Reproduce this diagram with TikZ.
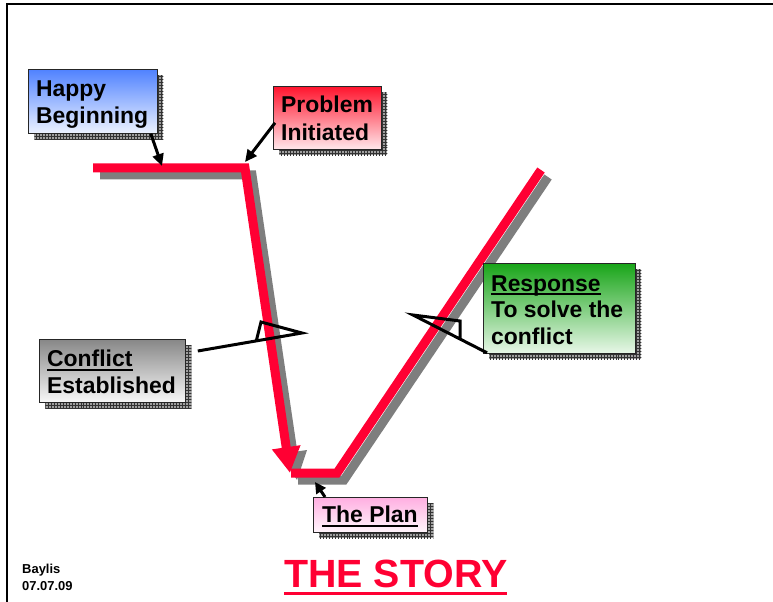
\documentclass[tikz,border=0pt]{standalone}
\usepackage{fontspec}
\setmainfont{Liberation Sans}
\usetikzlibrary{arrows.meta,calc,shadows,patterns}
\definecolor{storyred}{HTML}{FF0033}
\definecolor{shadowgray}{HTML}{A0A0A0}
\definecolor{lineshadow}{HTML}{7E7E7E}
\begin{document}
\begin{tikzpicture}[x=1bp,y=-1bp,
  box/.style={draw=black!85, line width=0.8bp, rectangle, inner sep=0, anchor=north west,
    general shadow={shadow xshift=6bp, shadow yshift=-6bp, fill=shadowgray},
    general shadow={shadow xshift=6bp, shadow yshift=-6bp, pattern=grid, pattern color=black!80}},
  lbl/.style={inner sep=0, anchor=base west, font=\bfseries\fontsize{23}{27}\selectfont},
  small/.style={inner sep=0, anchor=base west, font=\bfseries\fontsize{13}{16}\selectfont},
  uline/.style={line width=2.2bp},
  plot/.style={draw=storyred, line width=9bp, line join=miter, line cap=butt},
  plotshadow/.style={draw=lineshadow, line width=9bp, line join=miter, line cap=butt,
    transform canvas={shift={(7bp,-7bp)}}},
  pointer/.style={draw=black, line width=3bp, -{Triangle[width=11bp,length=12bp]}},
  callout/.style={draw=black, line width=3bp, line join=miter},
]
\useasboundingbox (0,0) rectangle (773,602);

% frame
\draw[line width=2bp] (7,602) -- (7,4) -- (773,4);

% story line points
\coordinate (s0) at (93,168);
\coordinate (s1) at (245,168);
\coordinate (s2) at (290,473);
\coordinate (s3) at (291,473);
\coordinate (s4) at (337,473);
\coordinate (s5) at (541,170);

% shadow of the story line
\draw[plotshadow] (s0) -- (s1) -- ($(s1)!0.91!(s2)$);
\fill[lineshadow, transform canvas={shift={(7bp,-7bp)}}]
  (s2) -- (273,447) -- (300,443) -- cycle;
\draw[plotshadow] (s3) -- (s4) -- (s5);

% story line
\draw[plot, -{Triangle[width=27bp,length=26bp]}] (s0) -- (s1) -- (s2);
\draw[plot] (s3) -- (s4) -- (s5);

% boxes
\node[box, minimum width=129bp, minimum height=64bp,
  top color={rgb,255:red,80;green,130;blue,255}, bottom color={rgb,255:red,236;green,242;blue,255}]
  (hb) at (28,69) {};
\node[box, minimum width=108bp, minimum height=63bp,
  top color={rgb,255:red,255;green,20;blue,45}, bottom color={rgb,255:red,255;green,232;blue,235}]
  (pi) at (273,86) {};
\node[box, minimum width=146bp, minimum height=63bp,
  top color={rgb,255:red,135;green,135;blue,135}, bottom color={rgb,255:red,248;green,248;blue,248}]
  (ce) at (39,339) {};
\node[box, minimum width=152bp, minimum height=90bp,
  top color={rgb,255:red,25;green,165;blue,25}, bottom color={rgb,255:red,232;green,247;blue,232}]
  (rs) at (483,263) {};
\node[box, minimum width=114bp, minimum height=35bp,
  top color={rgb,255:red,255;green,175;blue,225}, bottom color={rgb,255:red,255;green,246;blue,252}]
  (tp) at (313,497) {};

% box texts
\node[lbl] (hbA) at (36,97) {Happy};
\node[lbl] (hbB) at (36,124) {Beginning};
\node[lbl] (piA) at (281,113) {Problem};
\node[lbl] (piB) at (281,141) {Initiated};
\node[lbl] (ceA) at (47,366) {Conflict};
\node[lbl] (ceB) at (47,393) {Established};
\node[lbl] (rsA) at (491,291) {Response};
\node[lbl] (rsB) at (491,317) {To solve the};
\node[lbl] (rsC) at (491,344) {conflict};
\node[lbl] (tpA) at (322,522) {The Plan};
\draw[uline] ([yshift=-4bp]ceA.base west) -- ([yshift=-4bp]ceA.base east);
\draw[uline] ([yshift=-3bp]rsA.base west) -- ([yshift=-3bp]rsA.base east);
\draw[uline] ([yshift=-4bp]tpA.base west) -- ([yshift=-4bp]tpA.base east);

% pointers to the story line
\coordinate (hbT) at (162,166);
\coordinate (piT) at (245,162);
\coordinate (tpT) at (315,482);
\draw[pointer] ($(hb.south east)+(-7,0)$) -- (hbT);
\draw[pointer] ($(pi.south west)+(2,-27)$) -- (piT);
\draw[pointer, -{Triangle[width=11bp,length=11bp]}] ($(tp.north west)+(12,0)$) -- (tpT);

% callouts
\draw[callout] ($(ce.north east)+(12,12)$) -- (302,333) -- (261,322) -- (256,342);
\draw[callout] ($(rs.south west)+(4,-1)$) -- (413,315) -- (460,321) -- (460,338);

% title and author
\node[inner sep=0, anchor=base west, text=storyred, font=\bfseries\fontsize{39.5}{44}\selectfont]
  (title) at (284,587) {THE STORY};
\draw[storyred, line width=3bp] ([yshift=-6bp]title.base west) -- ([yshift=-6bp]title.base east);
\node[small] (au) at (22,573) {Baylis};
\node[small] (dt) at (22,590) {07.07.09};
\end{tikzpicture}
\end{document}
